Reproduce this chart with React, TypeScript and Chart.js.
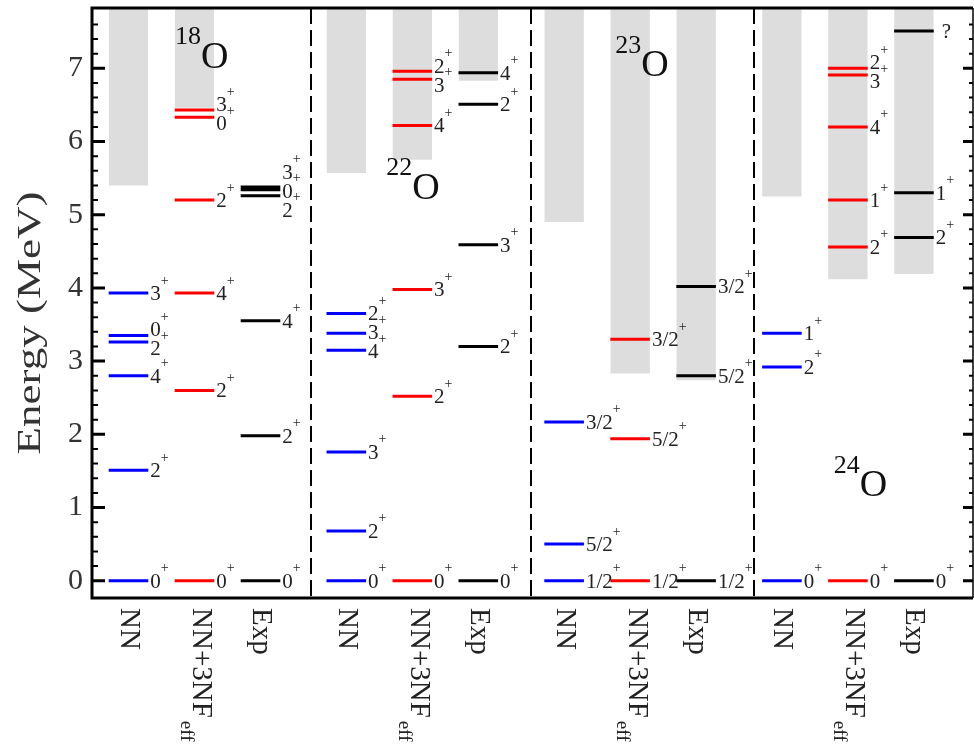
import React, { useEffect, useRef } from "react";
import { Chart, registerables } from "chart.js";

Chart.register(...registerables);

// ---------------- data ----------------
const isotopeMass = ["18", "22", "23", "24"];
const methodLabels = ["NN", "NN+3NF", "Exp"];
const methodSubscripts = ["", "eff", ""];
const methodColors = ["#0000ff", "#ff0000", "#000000"];
const yTickValues = [0, 1, 2, 3, 4, 5, 6, 7];

// 18O
const o18NN_E = [0, 1.51, 2.8, 3.26, 3.35, 3.93];
const o18NN_J = ["0+", "2+", "4+", "2+", "0+", "3+"];
const o18NNF_E = [0, 2.6, 3.93, 5.2, 6.33, 6.43];
const o18NNF_J = ["0+", "2+", "4+", "2+", "0+", "3+"];
const o18Exp_E = [0, 1.98, 3.55, 5.26, 5.34, 5.38];
const o18Exp_J = ["0+", "2+", "4+", "2+", "0+", "3+"];

// 22O
const o22NN_E = [0, 0.68, 1.76, 3.15, 3.38, 3.65];
const o22NN_J = ["0+", "2+", "3+", "4+", "3+", "2+"];
const o22NNF_E = [0, 2.52, 3.98, 6.22, 6.85, 6.96];
const o22NNF_J = ["0+", "2+", "3+", "4+", "3+", "2+"];
const o22Exp_E = [0, 3.2, 4.59, 6.51, 6.94];
const o22Exp_J = ["0+", "2+", "3+", "2+", "4+"];

// 23O
const o23NN_E = [0, 0.5, 2.17];
const o23NN_J = ["1/2+", "5/2+", "3/2+"];
const o23NNF_E = [0, 1.94, 3.3];
const o23NNF_J = ["1/2+", "5/2+", "3/2+"];
const o23Exp_E = [0, 2.8, 4.02];
const o23Exp_J = ["1/2+", "5/2+", "3/2+"];

// 24O
const o24NN_E = [0, 2.92, 3.38];
const o24NN_J = ["0+", "2+", "1+"];
const o24NNF_E = [0, 4.56, 5.2, 6.2, 6.91, 7.0];
const o24NNF_J = ["0+", "2+", "1+", "4+", "3+", "2+"];
const o24Exp_E = [0, 4.69, 5.3, 7.51];
const o24Exp_J = ["0+", "2+", "1+", "?"];

// continuum thresholds (start of grey bands), per isotope
const thresholdNN = [5.4, 5.57, 4.9, 5.25];
const thresholdNNF = [6.46, 5.75, 2.83, 4.12];
const thresholdExp = [null, 6.83, 2.74, 4.19];

// ---------------- layout constants ----------------
const PANEL_STEP = 3.3;
const HALF = 0.3;
const X_MIN = -0.553;
const X_MAX = 12.795;
const Y_MIN = -0.236;
const Y_MAX = 7.824;
const DIVIDERS = [2.77, 6.1, 9.48];
const ISO_ANCHORS = [
  { x: 1.1, y: 7.16 },
  { x: 4.3, y: 5.37 },
  { x: 7.77, y: 7.04 },
  { x: 11.08, y: 1.31 },
];
const FONT = "'Liberation Serif', 'Times New Roman', Times, serif";

const levelSets = [
  [[o18NN_E, o18NN_J], [o18NNF_E, o18NNF_J], [o18Exp_E, o18Exp_J]],
  [[o22NN_E, o22NN_J], [o22NNF_E, o22NNF_J], [o22Exp_E, o22Exp_J]],
  [[o23NN_E, o23NN_J], [o23NNF_E, o23NNF_J], [o23Exp_E, o23Exp_J]],
  [[o24NN_E, o24NN_J], [o24NNF_E, o24NNF_J], [o24Exp_E, o24Exp_J]],
] as [number[], string[]][][];
const thresholds = [thresholdNN, thresholdNNF, thresholdExp];

type Column = { x: number; method: number; panel: number; E: number[]; J: string[] };
const columns: Column[] = [];
levelSets.forEach((panel, p) =>
  panel.forEach(([E, J], m) => {
    columns.push({ x: p * PANEL_STEP + m, method: m, panel: p, E, J });
  })
);

function spread(ys: number[], gap: number): number[] {
  const order = ys.map((_, i) => i).sort((a, b) => ys[a] - ys[b]);
  const pos = order.map((i) => ys[i]);
  for (let it = 0; it < 100; it++) {
    let moved = false;
    for (let k = 0; k < pos.length - 1; k++) {
      const d = pos[k + 1] - pos[k];
      if (d < gap - 0.01) {
        const m = (gap - d) / 2;
        pos[k] -= m;
        pos[k + 1] += m;
        moved = true;
      }
    }
    if (!moved) break;
  }
  const out: number[] = new Array(ys.length);
  order.forEach((i, k) => (out[i] = pos[k]));
  return out;
}

const schemePlugin = {
  id: "scheme",
  afterDatasetsDraw(chart: any) {
    const { ctx, scales } = chart;
    const xs = scales.x;
    const ys = scales.y;
    ctx.save();
    ctx.fillStyle = "#222";
    // level labels
    columns.forEach((col) => {
      const xr = xs.getPixelForValue(col.x + HALF);
      const py = col.E.map((e) => ys.getPixelForValue(e));
      const ly = spread(py, 19);
      col.J.forEach((j, i) => {
        const sign = /[+-]$/.test(j) ? j.slice(-1) : "";
        const main = sign ? j.slice(0, -1) : j;
        const yc = ly[i];
        ctx.font = `21px ${FONT}`;
        ctx.textAlign = "left";
        ctx.textBaseline = "alphabetic";
        const tx = xr + (main === "?" ? 8 : 2);
        ctx.fillText(main, tx, yc + 7);
        const w = ctx.measureText(main).width;
        if (sign) {
          ctx.font = `14px ${FONT}`;
          ctx.fillText(sign, tx + w, yc - 8.5);
        }
      });
    });
    // isotope labels
    ISO_ANCHORS.forEach((a, p) => {
      const px = xs.getPixelForValue(a.x);
      const py = ys.getPixelForValue(a.y);
      ctx.fillStyle = "#111";
      ctx.textBaseline = "middle";
      ctx.font = `38px ${FONT}`;
      ctx.textAlign = "left";
      ctx.fillText("O", px, py + 1);
      ctx.font = `26px ${FONT}`;
      ctx.textAlign = "right";
      ctx.fillText(isotopeMass[p], px, py - 19);
    });
    ctx.restore();
  },
  afterDraw(chart: any) {
    const { ctx, chartArea: a, scales } = chart;
    const xs = scales.x;
    const ys = scales.y;
    ctx.save();
    ctx.strokeStyle = "#000";
    // dashed dividers
    ctx.lineWidth = 2;
    ctx.setLineDash([16, 6]);
    DIVIDERS.forEach((d) => {
      const px = Math.round(xs.getPixelForValue(d));
      ctx.beginPath();
      ctx.moveTo(px, a.top);
      ctx.lineTo(px, a.bottom);
      ctx.stroke();
    });
    ctx.setLineDash([]);
    // ticks (left and right), every 0.2 MeV
    for (let k = 0; k <= 38; k++) {
      const v = k * 0.2;
      const py = ys.getPixelForValue(v);
      if (py < a.top + 3) continue;
      const major = k % 5 === 0;
      ctx.lineWidth = major ? 3 : 2;
      ctx.beginPath();
      ctx.moveTo(a.left, py);
      ctx.lineTo(a.left + (major ? 13 : 6), py);
      ctx.moveTo(a.right, py);
      ctx.lineTo(a.right - (major ? 10 : 4), py);
      ctx.stroke();
    }
    // frame
    ctx.lineWidth = 3;
    ctx.beginPath();
    ctx.moveTo(a.left, a.top);
    ctx.lineTo(a.right, a.top);
    ctx.moveTo(a.left, a.bottom);
    ctx.lineTo(a.right, a.bottom);
    ctx.moveTo(a.left, a.top - 1.5);
    ctx.lineTo(a.left, a.bottom + 1.5);
    ctx.stroke();
    ctx.lineWidth = 1.5;
    ctx.beginPath();
    ctx.moveTo(a.right, a.top);
    ctx.lineTo(a.right, a.bottom);
    ctx.stroke();

    // category labels (rotated, reading downward)
    ctx.fillStyle = "#222";
    columns.forEach((col) => {
      const cx = xs.getPixelForValue(col.x);
      const main = methodLabels[col.method];
      const sub = methodSubscripts[col.method];
      ctx.save();
      ctx.translate(cx, a.bottom + 10);
      ctx.rotate(Math.PI / 2);
      ctx.font = `29px ${FONT}`;
      ctx.textAlign = "left";
      ctx.textBaseline = "middle";
      const off = sub ? -6 : 0;
      ctx.fillText(main, 0, off);
      if (sub) {
        const w = ctx.measureText(main).width;
        ctx.font = `19px ${FONT}`;
        ctx.fillText(sub, w + 3, 8.5);
      }
      ctx.restore();
    });

    // y-axis title
    ctx.save();
    ctx.translate(31, 323);
    ctx.rotate(-Math.PI / 2);
    ctx.font = `34px ${FONT}`;
    const title = "Energy (MeV)";
    const tw = ctx.measureText(title).width;
    ctx.scale(263 / tw, 1);
    ctx.textAlign = "center";
    ctx.textBaseline = "middle";
    ctx.fillStyle = "#333";
    ctx.fillText(title, 0, 0);
    ctx.restore();

    ctx.restore();
  },
};

function buildDatasets() {
  const ds: any[] = [];
  // grey continuum bands
  columns.forEach((col) => {
    const th = thresholds[col.method][col.panel];
    if (th === null || th === undefined) return;
    ds.push({
      type: "line",
      data: [
        { x: col.x - HALF, y: th },
        { x: col.x + HALF, y: th },
      ],
      fill: "end",
      backgroundColor: "#dddddd",
      borderWidth: 0,
      borderColor: "rgba(0,0,0,0)",
      pointRadius: 0,
      order: 2,
    });
  });
  // levels
  columns.forEach((col) => {
    const pts: any[] = [];
    col.E.forEach((e) => {
      pts.push({ x: col.x - HALF, y: e });
      pts.push({ x: col.x + HALF, y: e });
      pts.push({ x: col.x, y: null });
    });
    ds.push({
      type: "line",
      data: pts,
      borderColor: methodColors[col.method],
      borderWidth: 3,
      borderCapStyle: "butt",
      pointRadius: 0,
      spanGaps: false,
      fill: false,
      tension: 0,
      order: 1,
    });
  });
  return ds;
}

export default function App() {
  const ref = useRef<HTMLCanvasElement>(null);
  useEffect(() => {
    const chart = new Chart(ref.current as HTMLCanvasElement, {
      type: "line",
      data: { datasets: buildDatasets() },
      options: {
        animation: false,
        responsive: false,
        events: [],
        layout: { padding: { top: 8, right: 1, bottom: 149, left: 0 } },
        plugins: { legend: { display: false }, tooltip: { enabled: false } },
        scales: {
          x: { type: "linear", min: X_MIN, max: X_MAX, display: false },
          y: {
            type: "linear",
            min: Y_MIN,
            max: Y_MAX,
            afterBuildTicks: (s: any) => {
              s.ticks = yTickValues.map((v) => ({ value: v }));
            },
            afterFit: (s: any) => {
              s.width = 92;
              s.paddingTop = 0;
              s.paddingBottom = 0;
            },
            grid: { display: false, drawTicks: false },
            border: { display: false },
            ticks: {
              font: { family: FONT, size: 30 },
              color: "#333",
              padding: 9,
            },
          },
        },
      },
      plugins: [schemePlugin],
    } as any);
    return () => chart.destroy();
  }, []);
  return (
    <canvas
      ref={ref}
      width={974}
      height={747}
      style={{ position: "fixed", left: 0, top: 0, width: "974px", height: "747px" }}
    />
  );
}
